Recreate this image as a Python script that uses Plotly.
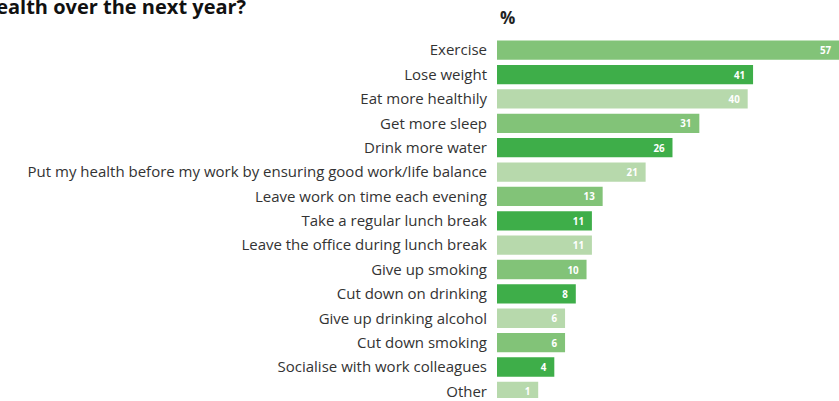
import plotly.graph_objects as go

categories = [
    "Exercise", "Lose weight", "Eat more healthily", "Get more sleep",
    "Drink more water",
    "Put my health before my work by ensuring good work/life balance",
    "Leave work on time each evening", "Take a regular lunch break",
    "Leave the office during lunch break", "Give up smoking",
    "Cut down on drinking", "Give up drinking alcohol", "Cut down smoking",
    "Socialise with work colleagues", "Other",
]
values = [57, 41, 40, 31, 26, 21, 13, 11, 11, 10, 8, 6, 6, 4, 1]
palette = ["#82C378", "#3EAE49", "#B7D9AC"]
colors = [palette[i % 3] for i in range(len(values))]

X0 = -6.67   # left end of value axis (bars drawn from axis start)
XMAX = 57

fig = go.Figure(go.Bar(
    y=categories,
    x=[v - X0 for v in values],
    base=[X0] * len(values),
    orientation="h",
    marker=dict(color=colors, line=dict(width=0)),
    text=[f"{v}\u2002" for v in values],
    textposition="inside",
    insidetextanchor="end",
    textangle=0,
    textfont=dict(family="Open Sans", size=11, color="white", weight="bold"),
    hoverinfo="skip",
))

fig.update_layout(
    width=839, height=401,
    margin=dict(l=497, r=0, t=38, b=0),
    paper_bgcolor="white", plot_bgcolor="white",
    showlegend=False,
    bargap=0.206,
    font=dict(family="Open Sans", size=15, color="#333333"),
    xaxis=dict(range=[X0, XMAX], visible=False, showgrid=False, zeroline=False),
    yaxis=dict(
        type="category", range=[14.27, -0.5], autorange=False,
        showgrid=False, zeroline=False, showline=False,
        ticks="", ticklabelstandoff=9,
        tickfont=dict(family="Open Sans", size=15, color="#333333"),
    ),
    uniformtext=dict(minsize=8, mode="show"),
    annotations=[
        dict(text="health over the next year?", xref="paper", yref="paper",
             x=(249 - 497) / 342, y=(401 - 6) / 363, xanchor="right", yanchor="middle",
             showarrow=False, font=dict(family="Open Sans", size=20, color="#111111", weight="bold")),
        dict(text="%", xref="paper", yref="paper",
             x=(498 - 497) / 342, y=(401 - 17) / 363, xanchor="left", yanchor="middle",
             showarrow=False, font=dict(family="Open Sans", size=17, color="#222222", weight="bold")),
    ],
)

fig.write_html("out.html")
